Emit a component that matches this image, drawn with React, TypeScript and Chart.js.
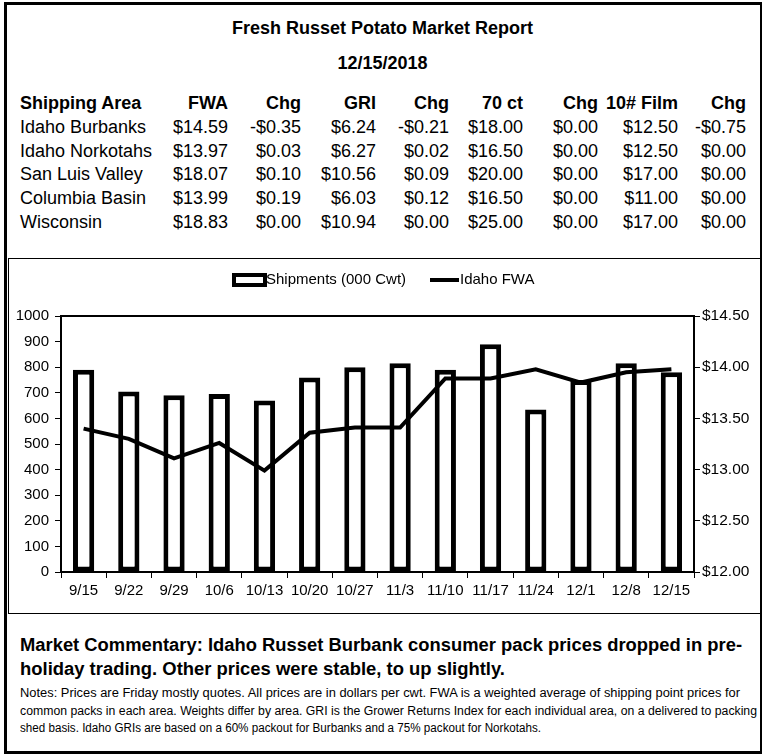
import React, { useEffect, useLayoutEffect, useRef } from "react";
import { Chart, registerables } from "chart.js";

Chart.register(...registerables);

const weeks = ["9/15", "9/22", "9/29", "10/6", "10/13", "10/20", "10/27", "11/3", "11/10", "11/17", "11/24", "12/1", "12/8", "12/15"];
const shipments = [790, 705, 690, 695, 670, 760, 800, 815, 790, 890, 635, 750, 815, 780];
const idahoFwa = [13.40, 13.30, 13.11, 13.26, 12.99, 13.36, 13.41, 13.41, 13.89, 13.89, 13.98, 13.85, 13.95, 13.98];

const tableHeader = ["Shipping Area", "FWA", "Chg", "GRI", "Chg", "70 ct", "Chg", "10# Film", "Chg"];
const areas = ["Idaho Burbanks", "Idaho Norkotahs", "San Luis Valley", "Columbia Basin", "Wisconsin"];
const fwa = ["$14.59", "$13.97", "$18.07", "$13.99", "$18.83"];
const fwaChg = ["-$0.35", "$0.03", "$0.10", "$0.19", "$0.00"];
const gri = ["$6.24", "$6.27", "$10.56", "$6.03", "$10.94"];
const griChg = ["-$0.21", "$0.02", "$0.09", "$0.12", "$0.00"];
const ct70 = ["$18.00", "$16.50", "$20.00", "$16.50", "$25.00"];
const ct70Chg = ["$0.00", "$0.00", "$0.00", "$0.00", "$0.00"];
const film10 = ["$12.50", "$12.50", "$17.00", "$11.00", "$17.00"];
const film10Chg = ["-$0.75", "$0.00", "$0.00", "$0.00", "$0.00"];

const commentary = [
  "Market Commentary: Idaho Russet Burbank consumer pack prices dropped in pre-",
  "holiday trading. Other prices were stable, to up slightly.",
];
const commentaryWidths = [722, 485];
const notes = [
  "Notes: Prices are Friday mostly quotes. All prices are in dollars per cwt. FWA is a weighted average of shipping point prices for",
  "common packs in each area. Weights differ by area. GRI is the Grower Returns Index for each individual area, on a delivered to packing",
  "shed basis. Idaho GRIs are based on a 60% packout for Burbanks and a 75% packout for Norkotahs.",
];
const notesWidths = [720, 737, 521];

const FONT = "'Liberation Sans', Arial, sans-serif";

const colRight = [0, 228, 301, 376, 449, 523, 598, 678, 746];
const rowY = [103, 127, 151, 174, 198, 222];

function Cell({ text, col, row, bold }: { text: string; col: number; row: number; bold?: boolean }) {
  const style: React.CSSProperties = {
    position: "absolute",
    top: rowY[row] - 11,
    height: 22,
    lineHeight: "22px",
    fontSize: 18,
    fontWeight: bold ? "bold" : "normal",
    whiteSpace: "nowrap",
  };
  if (col === 0) style.left = 20;
  else style.right = 765 - colRight[col];
  return <div style={style}>{text}</div>;
}

function FitLine({ text, width, style }: { text: string; width: number; style: React.CSSProperties }) {
  const r = useRef<HTMLSpanElement | null>(null);
  useLayoutEffect(() => {
    const el = r.current;
    if (!el) return;
    const w = el.getBoundingClientRect().width;
    if (w > 0) el.style.transform = `scaleX(${width / w})`;
  }, [text, width]);
  return (
    <span ref={r} style={{ position: "absolute", display: "inline-block", whiteSpace: "nowrap", transformOrigin: "0 0", ...style }}>
      {text}
    </span>
  );
}

export default function App() {
  const ref = useRef<HTMLCanvasElement | null>(null);

  useEffect(() => {
    if (!ref.current) return;
    const legendPlugin = {
      id: "customLegend",
      afterDraw(chart: any) {
        const ctx = chart.ctx as CanvasRenderingContext2D;
        ctx.save();
        const a = chart.chartArea;
        ctx.strokeStyle = "#000";
        ctx.lineWidth = 2;
        ctx.strokeRect(a.left, a.top, a.right - a.left, a.bottom - a.top);
        const y = 21;
        ctx.font = "15px " + FONT;
        ctx.textBaseline = "middle";
        ctx.lineWidth = 4;
        ctx.strokeStyle = "#000";
        ctx.fillStyle = "#fff";
        ctx.fillRect(225, y - 5, 31, 10);
        ctx.strokeRect(225, y - 5, 31, 10);
        ctx.fillStyle = "#000";
        ctx.fillText("Shipments (000 Cwt)", 257, y);
        ctx.beginPath();
        ctx.lineWidth = 4;
        ctx.moveTo(421, y);
        ctx.lineTo(450, y);
        ctx.stroke();
        ctx.fillText("Idaho FWA", 451, y);
        ctx.restore();
      },
    };

    const chart = new Chart(ref.current, {
      type: "bar",
      data: {
        labels: weeks,
        datasets: [
          {
            type: "line",
            label: "Idaho FWA",
            data: idahoFwa,
            yAxisID: "y1",
            borderColor: "#000",
            backgroundColor: "#000",
            borderWidth: 4,
            pointRadius: 0,
            tension: 0,
            order: 0,
          } as any,
          {
            type: "bar",
            label: "Shipments (000 Cwt)",
            data: shipments,
            yAxisID: "y",
            backgroundColor: "#fff",
            borderColor: "#000",
            borderWidth: 5,
            borderSkipped: false,
            categoryPercentage: 1,
            barPercentage: 0.47,
            order: 1,
          } as any,
        ],
      },
      options: {
        animation: false,
        responsive: false,
        maintainAspectRatio: false,
        layout: { padding: { top: 57, left: 0, right: 0, bottom: 0 } },
        plugins: { legend: { display: false }, tooltip: { enabled: false } },
        scales: {
          x: {
            offset: true,
            grid: { offset: true, drawOnChartArea: false, drawTicks: true, tickLength: 6, color: "#000", lineWidth: 1 },
            border: { display: true, color: "#000", width: 2 },
            ticks: { color: "#000", font: { family: FONT, size: 15 }, padding: 4, maxRotation: 0, autoSkip: false },
            afterFit: (s: any) => { s.height = 40; },
          },
          y: {
            position: "left",
            min: 0,
            max: 1000,
            grid: { drawOnChartArea: false, drawTicks: true, tickLength: 6, color: "#000", lineWidth: 1 },
            border: { display: true, color: "#000", width: 2 },
            ticks: {
              stepSize: 100,
              color: "#000",
              font: { family: FONT, size: 15 },
              padding: 6,
              callback: (v: any) => String(v),
            },
            afterFit: (s: any) => { s.width = 52; },
          },
          y1: {
            position: "right",
            min: 12,
            max: 14.5,
            grid: { drawOnChartArea: false, drawTicks: true, tickLength: 6, color: "#000", lineWidth: 1 },
            border: { display: true, color: "#000", width: 2 },
            ticks: {
              stepSize: 0.5,
              color: "#000",
              font: { family: FONT, size: 15.5 },
              padding: 2,
              callback: (v: any) => "$" + Number(v).toFixed(2),
            },
            afterFit: (s: any) => { s.width = 66; },
          },
        },
      },
      plugins: [legendPlugin],
    });
    return () => chart.destroy();
  }, []);

  const rows = areas.map((a, i) => [a, fwa[i], fwaChg[i], gri[i], griChg[i], ct70[i], ct70Chg[i], film10[i], film10Chg[i]]);

  return (
    <div style={{ position: "absolute", left: 0, top: 0, width: 765, height: 756, background: "#fff", fontFamily: FONT, color: "#000", overflow: "hidden" }}>
      <div style={{ position: "absolute", left: 4, top: 2, width: 758, height: 752, border: "3px solid #000", borderRightWidth: 2, boxSizing: "border-box" }} />
      <div style={{ position: "absolute", left: 0, width: 765, top: 17, height: 22, lineHeight: "22px", textAlign: "center", fontSize: 18, fontWeight: "bold" }}>
        Fresh Russet Potato Market Report
      </div>
      <div style={{ position: "absolute", left: 0, width: 765, top: 52, height: 22, lineHeight: "22px", textAlign: "center", fontSize: 18, fontWeight: "bold" }}>
        12/15/2018
      </div>
      {tableHeader.map((h, c) => (
        <Cell key={"h" + c} text={h} col={c} row={0} bold />
      ))}
      {rows.map((r, ri) => r.map((t, c) => <Cell key={ri + "-" + c} text={t} col={c} row={ri + 1} />))}
      <div style={{ position: "absolute", left: 8, top: 258, width: 754, height: 356, border: "1px solid #000", borderRightWidth: 2, boxSizing: "border-box" }} />
      <canvas ref={ref} width={751} height={353} style={{ position: "absolute", left: 9, top: 259, width: 751, height: 353 }} />
      {commentary.map((t, i) => (
        <FitLine
          key={"c" + i}
          text={t}
          width={commentaryWidths[i]}
          style={{ left: 20, top: 634 + i * 24, height: 22, lineHeight: "22px", fontSize: 18, fontWeight: "bold" }}
        />
      ))}
      {notes.map((t, i) => (
        <FitLine
          key={"n" + i}
          text={t}
          width={notesWidths[i]}
          style={{ left: 20, top: 685 + i * 17.5, height: 16, lineHeight: "16px", fontSize: 12 }}
        />
      ))}
    </div>
  );
}
